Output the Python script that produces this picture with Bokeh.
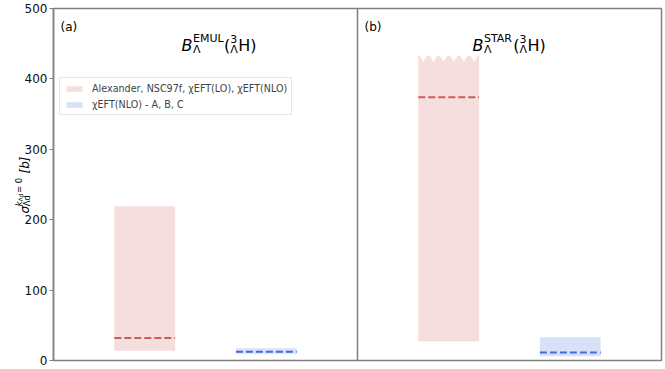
import math
import numpy as np
from bokeh.plotting import figure
from bokeh.models import Range1d, FixedTicker, Span, Legend, LegendItem
from bokeh.core.properties import value
from bokeh.embed import file_html
from bokeh.resources import INLINE

# ---- data ----
panel_tags = ["(a)", "(b)"]
title_sups = ["EMUL", "STAR"]
red_low = [14, 27]
red_high = [219, 433]
red_mid = [32, 374]
red_truncated = [False, True]
blue_low = [9.5, 6]
blue_high = [17.5, 33]
blue_mid = [12.5, 11.5]
y_ticks = [0, 100, 200, 300, 400, 500]
legend_labels = ["Alexander, NSC97f, χEFT(LO), χEFT(NLO)", "χEFT(NLO) - A, B, C"]

RED = "indianred"
BLUE = "royalblue"
SPINE = "#808080"
FONT = "DejaVu Sans"

p = figure(width=665, height=369, output_backend="svg", toolbar_location=None,
           x_range=Range1d(0, 2), y_range=Range1d(0, 500),
           x_axis_location=None, min_border_left=53, min_border_right=4,
           min_border_top=8, min_border_bottom=9)
p.xgrid.visible = False
p.ygrid.visible = False
p.outline_line_color = SPINE
p.outline_line_width = 1.5
p.background_fill_color = "white"
p.border_fill_color = "white"

ax = p.yaxis[0]
ax.ticker = FixedTicker(ticks=y_ticks)
ax.minor_tick_line_color = None
ax.axis_line_color = SPINE
ax.axis_line_width = 1.5
ax.major_tick_line_color = SPINE
ax.major_tick_out = 4
ax.major_tick_in = 0
ax.major_label_standoff = 2
ax.major_label_text_font = FONT
ax.major_label_text_font_size = "12px"
ax.major_label_text_color = "#111111"

p.add_layout(Span(location=1, dimension="height", line_color=SPINE, line_width=1.5))

red_renderers = []
blue_renderers = []
for i in range(2):
    rl, rr = i + 0.2, i + 0.4
    bl, br = i + 0.6, i + 0.8
    if red_truncated[i]:
        t = np.linspace(0, 1, 241)
        amp = 9.0
        top = red_high[i] - amp + amp * np.abs(np.cos(6 * math.pi * t))
        xs = list(rl + (rr - rl) * t) + [rr, rl]
        ys = list(top) + [red_low[i], red_low[i]]
        r = p.patch(xs, ys, fill_color=RED, fill_alpha=0.2, line_color=None)
    else:
        r = p.quad(left=[rl], right=[rr], bottom=[red_low[i]], top=[red_high[i]],
                   fill_color=RED, fill_alpha=0.2, line_color=None)
    red_renderers.append(r)
    b = p.quad(left=[bl], right=[br], bottom=[blue_low[i]], top=[blue_high[i]],
               fill_color=BLUE, fill_alpha=0.2, line_color=None)
    blue_renderers.append(b)
    p.segment(x0=[rl], y0=[red_mid[i]], x1=[rr], y1=[red_mid[i]],
              line_color=RED, line_width=2, line_dash="7 3")
    p.segment(x0=[bl], y0=[blue_mid[i]], x1=[br], y1=[blue_mid[i]],
              line_color=BLUE, line_width=2, line_dash="7 3")

legend = Legend(items=[LegendItem(label=legend_labels[0], renderers=[red_renderers[0]]),
                       LegendItem(label=legend_labels[1], renderers=[blue_renderers[0]])],
                location=(6, 245), margin=0, padding=4, spacing=4,
                glyph_width=20, glyph_height=7, label_height=12, label_standoff=8,
                label_text_font=FONT, label_text_font_size="9.6px",
                border_line_color="#d0d0d0", border_line_width=1,
                background_fill_alpha=0.8)
p.add_layout(legend)


def add_text(text, x, y, dx, dy, size, italic=False, angle=0.0):
    # dy in screen pixels, positive = downwards
    p.text(x=[x], y=[y], x_offset=dx, y_offset=dy, text=[text],
           text_font=value(FONT), text_font_size=value(f"{size}px"),
           text_font_style="italic" if italic else "normal",
           text_baseline="alphabetic", text_align="left",
           angle=angle, angle_units="rad", text_color="black", level="overlay")


W = {'E': .632, 'M': .863, 'U': .732, 'L': .557, 'S': .635, 'T': .611, 'A': .684,
     'R': .695, '(': .390, '3': .636, 'Λ': .684, 'H': .752, 'B': .686}

title_start = [128, 115]
for i in range(2):
    add_text(panel_tags[i], i, 500, 7, 18, 12)
    d = title_start[i]
    add_text("B", i, 500, d, 37, 16, italic=True)
    d += W['B'] * 16 + 0.5
    add_text(title_sups[i], i, 500, d, 29.5, 11)
    add_text("Λ", i, 500, d, 40.5, 11)
    d += sum(W[c] for c in title_sups[i]) * 11 + 0.5
    add_text("(", i, 500, d, 37, 16)
    d += W['('] * 16
    add_text("3", i, 500, d, 30.5, 11)
    add_text("Λ", i, 500, d, 40.5, 11)
    d += W['Λ'] * 11 + 0.3
    add_text("H)", i, 500, d, 37, 16)

# rotated y label: sigma_{Λd}^{k_{Λd}=0} [b]
rot = math.pi / 2
base = -29
start = -147
add_text("σ", 0, 0, base, start, 12, italic=True, angle=rot)
s1 = start - 7.2
add_text("Λd", 0, 0, base + 2.5, s1, 8.5, angle=rot)
add_text("k", 0, 0, base - 6, s1, 8.5, italic=True, angle=rot)
add_text("Λd", 0, 0, base - 4, s1 - 4.9, 6, angle=rot)
add_text("= 0", 0, 0, base - 6, s1 - 4.9 - 8.4, 8.5, angle=rot)
add_text("[b]", 0, 0, base, s1 - 4.9 - 8.4 - 15.5 - 4, 12, italic=True, angle=rot)

open("out.html", "w").write(file_html(p, INLINE))
